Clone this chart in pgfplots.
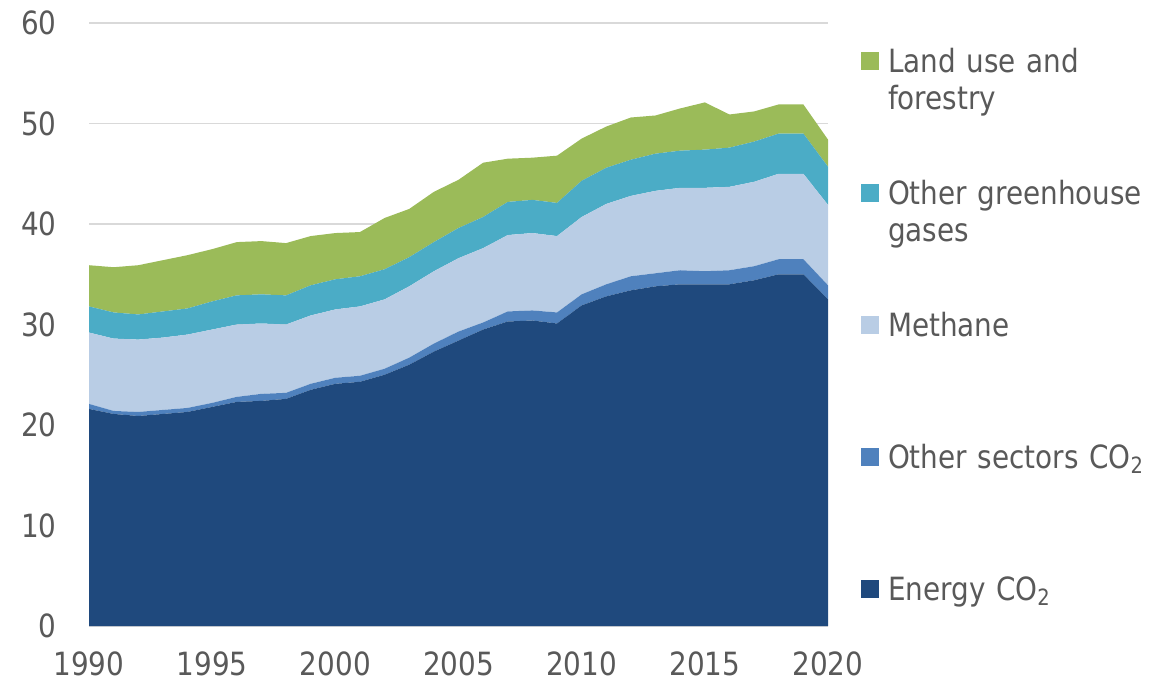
\documentclass[border=0pt]{standalone}
\usepackage{pgfplots}
\pgfplotsset{compat=1.18}
\usepackage{pgfplotstable}
\usepackage{fontspec}
\setmainfont[FakeStretch=0.87]{DejaVu Sans}
\definecolor{energy}{HTML}{1F497D}
\definecolor{othersec}{HTML}{4F81BD}
\definecolor{methane}{HTML}{B9CDE5}
\definecolor{ghg}{HTML}{4BACC6}
\definecolor{landuse}{HTML}{9BBB59}
\definecolor{txtgrey}{HTML}{595959}
\definecolor{gridgrey}{HTML}{D9D9D9}
\pgfplotstableread{
year energy other methane ghg land
1990 21.6 0.5 7.1 2.6 4.1
1991 21.1 0.3 7.2 2.6 4.5
1992 20.9 0.4 7.2 2.5 4.9
1993 21.1 0.4 7.2 2.6 5.1
1994 21.3 0.4 7.3 2.6 5.3
1995 21.8 0.4 7.3 2.8 5.2
1996 22.3 0.5 7.2 2.9 5.3
1997 22.4 0.7 7.0 2.9 5.3
1998 22.6 0.6 6.8 2.9 5.2
1999 23.5 0.6 6.8 3.0 4.9
2000 24.1 0.6 6.8 3.0 4.6
2001 24.3 0.6 6.9 3.0 4.4
2002 25.0 0.6 6.9 3.0 5.1
2003 26.0 0.7 7.1 2.9 4.8
2004 27.3 0.8 7.2 2.9 5.0
2005 28.4 0.9 7.3 3.0 4.8
2006 29.5 0.7 7.4 3.1 5.4
2007 30.3 1.0 7.6 3.3 4.3
2008 30.4 1.0 7.7 3.3 4.2
2009 30.1 1.1 7.6 3.3 4.7
2010 31.9 1.1 7.7 3.6 4.2
2011 32.8 1.2 8.0 3.6 4.1
2012 33.4 1.4 8.0 3.6 4.2
2013 33.8 1.3 8.2 3.7 3.8
2014 34.0 1.4 8.2 3.7 4.2
2015 34.0 1.3 8.3 3.8 4.7
2016 34.0 1.4 8.3 3.9 3.3
2017 34.4 1.4 8.4 4.0 3.0
2018 35.0 1.5 8.5 4.0 2.9
2019 35.0 1.5 8.5 4.0 2.9
2020 32.5 1.4 8.0 3.8 2.7
}\datatable
\begin{document}
\begin{tikzpicture}
\useasboundingbox (-44.5pt,-28pt) rectangle (537pt,313pt);
\begin{axis}[
  at={(0pt,0pt)}, anchor=south west,
  scale only axis, width=369.5pt, height=301.5pt,
  xmin=1990, xmax=2020, ymin=0, ymax=60,
  enlargelimits=false,
  xtick={1990,1995,...,2020}, ytick={0,10,...,60},
  /pgf/number format/assume math mode=true,
  /pgf/number format/1000 sep={},
  axis line style={draw=none},
  major tick length=0pt,
  tick style={draw=none},
  ymajorgrids, grid style={gridgrey, line width=0.75pt},
  ticklabel style={font=\fontsize{16}{19}\selectfont, text=txtgrey},
  yticklabel style={anchor=east, inner sep=0pt, xshift=-16pt},
  xticklabel style={anchor=north, inner sep=0pt, yshift=-12.5pt},
  stack plots=y,
  legend cell align=left,
  reverse legend,
  legend image code/.code={\fill[#1] (0pt,1pt) rectangle (9pt,10pt);},
  legend style={at={(rel axis cs:1,1)}, anchor=north west,
    xshift=16.5pt, yshift=-12.65pt, draw=none, fill=none,
    inner sep=0pt, outer sep=0pt, row sep=0pt,
    cells={anchor=base west},
    nodes={inner sep=0pt, text width=140pt, align=left,
      text height=12pt, text depth=54pt,
      font=\fontsize{16}{18.75}\selectfont, text=txtgrey},
    /tikz/every odd column/.append style={column sep=4.5pt}},
]
\addplot[fill=energy, draw=none] table[x=year, y=energy]{\datatable} \closedcycle;
\addlegendentry{Energy CO\textsubscript{2}}
\addplot[fill=othersec, draw=none] table[x=year, y=other]{\datatable} \closedcycle;
\addlegendentry{Other sectors CO\textsubscript{2}}
\addplot[fill=methane, draw=none] table[x=year, y=methane]{\datatable} \closedcycle;
\addlegendentry{Methane}
\addplot[fill=ghg, draw=none] table[x=year, y=ghg]{\datatable} \closedcycle;
\addlegendentry{Other greenhouse\\gases}
\addplot[fill=landuse, draw=none] table[x=year, y=land]{\datatable} \closedcycle;
\addlegendentry{Land use and\\forestry}
\end{axis}
\end{tikzpicture}
\end{document}
